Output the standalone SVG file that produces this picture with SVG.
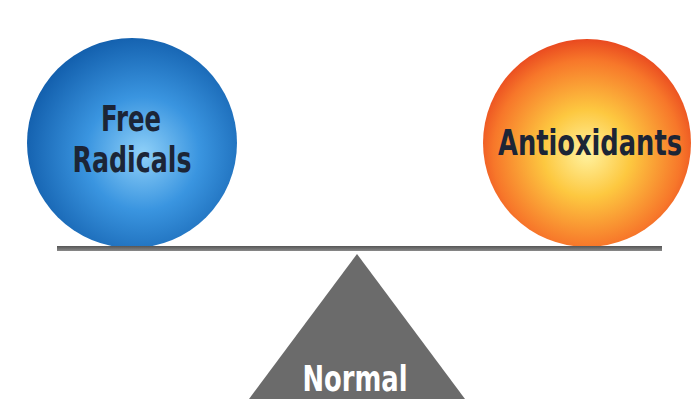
<svg xmlns="http://www.w3.org/2000/svg" width="696" height="399" viewBox="0 0 696 399">
<defs>
<radialGradient id="gBlue" cx="0.55" cy="0.55" r="0.6">
<stop offset="0" stop-color="#8fd0f8"/>
<stop offset="0.45" stop-color="#3a95e0"/>
<stop offset="1" stop-color="#0f5aa8"/>
</radialGradient>
<radialGradient id="gOrange" cx="0.5" cy="0.55" r="0.6">
<stop offset="0" stop-color="#fff2a0"/>
<stop offset="0.35" stop-color="#fdc840"/>
<stop offset="0.75" stop-color="#f7772a"/>
<stop offset="1" stop-color="#e2321a"/>
</radialGradient>
<linearGradient id="gBeam" x1="0" y1="0" x2="0" y2="1">
<stop offset="0" stop-color="#555"/>
<stop offset="1" stop-color="#8a8a8a"/>
</linearGradient>
</defs>
<style>
.lbl{font-family:"DejaVu Sans Condensed","DejaVu Sans",sans-serif;font-stretch:condensed;font-weight:bold;text-anchor:middle}
.dark{fill:#1c2536}
</style>
<rect width="696" height="399" fill="#ffffff"/>
<g id="free-radicals">
<circle cx="132" cy="143" r="105" fill="url(#gBlue)"/>
<text class="lbl dark" x="131" y="131" font-size="35" textLength="60" lengthAdjust="spacingAndGlyphs">Free</text>
<text class="lbl dark" x="132" y="172" font-size="35" textLength="119" lengthAdjust="spacingAndGlyphs">Radicals</text>
</g>
<g id="antioxidants">
<circle cx="587" cy="143" r="104" fill="url(#gOrange)"/>
<text class="lbl dark" x="590" y="155" font-size="35" textLength="184" lengthAdjust="spacingAndGlyphs">Antioxidants</text>
</g>
<g id="beam">
<rect x="57" y="246" width="605" height="5" fill="url(#gBeam)"/>
</g>
<g id="normal">
<polygon points="357,254 465,399 249,399" fill="#6b6b6b"/>
<text class="lbl" x="355" y="391" font-size="35" fill="#ffffff" textLength="105" lengthAdjust="spacingAndGlyphs">Normal</text>
</g>
<g id="connectors"></g>
</svg>
